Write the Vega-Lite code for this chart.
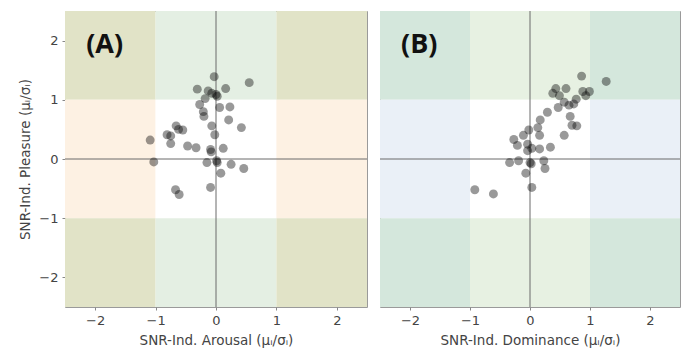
{
  "$schema": "https://vega.github.io/schema/vega-lite/v6.json",
  "padding": {"left": 18, "top": 10, "right": 7, "bottom": 5},
  "background": "white",
  "spacing": 11,
  "datasets": {
    "zonesA": [
      {"x": -2.5, "x2": -1, "y": 1, "y2": 2.5, "zone": "A-corner"},
      {"x": -1, "x2": 1, "y": 1, "y2": 2.5, "zone": "A-vert"},
      {"x": 1, "x2": 2.5, "y": 1, "y2": 2.5, "zone": "A-corner"},
      {"x": -2.5, "x2": -1, "y": -1, "y2": 1, "zone": "A-side"},
      {"x": -1, "x2": 1, "y": -1, "y2": 1, "zone": "center"},
      {"x": 1, "x2": 2.5, "y": -1, "y2": 1, "zone": "A-side"},
      {"x": -2.5, "x2": -1, "y": -2.5, "y2": -1, "zone": "A-corner"},
      {"x": -1, "x2": 1, "y": -2.5, "y2": -1, "zone": "A-vert"},
      {"x": 1, "x2": 2.5, "y": -2.5, "y2": -1, "zone": "A-corner"}
    ],
    "zonesB": [
      {"x": -2.5, "x2": -1, "y": 1, "y2": 2.5, "zone": "B-corner"},
      {"x": -1, "x2": 1, "y": 1, "y2": 2.5, "zone": "B-vert"},
      {"x": 1, "x2": 2.5, "y": 1, "y2": 2.5, "zone": "B-corner"},
      {"x": -2.5, "x2": -1, "y": -1, "y2": 1, "zone": "B-side"},
      {"x": -1, "x2": 1, "y": -1, "y2": 1, "zone": "center"},
      {"x": 1, "x2": 2.5, "y": -1, "y2": 1, "zone": "B-side"},
      {"x": -2.5, "x2": -1, "y": -2.5, "y2": -1, "zone": "B-corner"},
      {"x": -1, "x2": 1, "y": -2.5, "y2": -1, "zone": "B-vert"},
      {"x": 1, "x2": 2.5, "y": -2.5, "y2": -1, "zone": "B-corner"}
    ],
    "ptsA": [
      {"x": -0.03, "y": 1.39}, {"x": 0.55, "y": 1.29}, {"x": -0.31, "y": 1.18}, {"x": 0.16, "y": 1.19},
      {"x": -0.13, "y": 1.15}, {"x": -0.07, "y": 1.11}, {"x": 0.0, "y": 1.09}, {"x": 0.02, "y": 1.06},
      {"x": -0.18, "y": 1.02}, {"x": -0.27, "y": 0.92}, {"x": 0.06, "y": 0.87}, {"x": 0.23, "y": 0.88},
      {"x": -0.21, "y": 0.80}, {"x": -0.20, "y": 0.72}, {"x": 0.21, "y": 0.66}, {"x": -0.07, "y": 0.56},
      {"x": 0.42, "y": 0.53}, {"x": -0.66, "y": 0.56}, {"x": -0.55, "y": 0.49}, {"x": -0.62, "y": 0.50},
      {"x": -0.81, "y": 0.41}, {"x": -0.75, "y": 0.39}, {"x": -0.02, "y": 0.41}, {"x": -1.09, "y": 0.32},
      {"x": -0.75, "y": 0.26}, {"x": -0.47, "y": 0.22}, {"x": -0.33, "y": 0.19}, {"x": 0.12, "y": 0.18},
      {"x": -0.09, "y": 0.16}, {"x": -0.08, "y": 0.12}, {"x": -1.03, "y": -0.05}, {"x": -0.15, "y": -0.06},
      {"x": 0.01, "y": -0.03}, {"x": 0.02, "y": -0.06}, {"x": 0.25, "y": -0.09}, {"x": 0.46, "y": -0.16},
      {"x": 0.08, "y": -0.24}, {"x": -0.09, "y": -0.48}, {"x": -0.67, "y": -0.52}, {"x": -0.61, "y": -0.60}
    ],
    "ptsB": [
      {"x": 0.86, "y": 1.40}, {"x": 1.27, "y": 1.31}, {"x": 0.43, "y": 1.19}, {"x": 0.60, "y": 1.19},
      {"x": 0.38, "y": 1.11}, {"x": 0.49, "y": 1.07}, {"x": 0.88, "y": 1.14}, {"x": 0.99, "y": 1.14},
      {"x": 0.93, "y": 1.07}, {"x": 0.77, "y": 1.01}, {"x": 0.57, "y": 0.96}, {"x": 0.65, "y": 0.91},
      {"x": 0.47, "y": 0.87}, {"x": 0.73, "y": 0.93}, {"x": 0.29, "y": 0.79}, {"x": 0.67, "y": 0.72},
      {"x": 0.17, "y": 0.66}, {"x": 0.70, "y": 0.57}, {"x": 0.78, "y": 0.56}, {"x": 0.13, "y": 0.53},
      {"x": -0.02, "y": 0.49}, {"x": -0.11, "y": 0.40}, {"x": 0.16, "y": 0.40}, {"x": 0.57, "y": 0.40},
      {"x": -0.27, "y": 0.33}, {"x": -0.21, "y": 0.23}, {"x": -0.04, "y": 0.25}, {"x": 0.03, "y": 0.18},
      {"x": 0.16, "y": 0.17}, {"x": 0.34, "y": 0.20}, {"x": -0.04, "y": 0.14}, {"x": -0.34, "y": -0.06},
      {"x": -0.19, "y": -0.03}, {"x": 0.0, "y": -0.06}, {"x": 0.02, "y": -0.08}, {"x": 0.23, "y": -0.03},
      {"x": 0.25, "y": -0.16}, {"x": -0.07, "y": -0.24}, {"x": 0.03, "y": -0.48}, {"x": -0.92, "y": -0.52},
      {"x": -0.61, "y": -0.59}
    ],
    "zero": [{"v": 0}]
  },
  "hconcat": [
    {
      "width": 302,
      "height": 296,
      "layer": [
        {
          "data": {"name": "zonesA"},
          "mark": {"type": "rect", "strokeWidth": 0},
          "encoding": {
            "x": {"field": "x", "type": "quantitative", "scale": {"domain": [-2.5, 2.5], "nice": false, "zero": false},
                  "axis": {"values": [-2, -1, 0, 1, 2], "format": "d", "title": "SNR-Ind. Arousal (μᵢ/σᵢ)"}},
            "x2": {"field": "x2"},
            "y": {"field": "y", "type": "quantitative", "scale": {"domain": [-2.5, 2.5], "nice": false, "zero": false},
                  "axis": {"values": [-2, -1, 0, 1, 2], "format": "d", "title": "SNR-Ind. Pleasure (μᵢ/σᵢ)"}},
            "y2": {"field": "y2"},
            "color": {"field": "zone", "type": "nominal", "legend": null,
                      "scale": {"domain": ["A-corner", "A-vert", "A-side", "center", "B-corner", "B-vert", "B-side"],
                                "range": ["#e1e3c7", "#e4efe3", "#fdf1e3", "#ffffff", "#d4e7dc", "#e7f1e2", "#eaf0f7"]}}
          }
        },
        {
          "data": {"name": "zero"},
          "mark": {"type": "rule", "color": "#6a6a6a", "strokeWidth": 1},
          "encoding": {"x": {"field": "v", "type": "quantitative"}}
        },
        {
          "data": {"name": "zero"},
          "mark": {"type": "rule", "color": "#6a6a6a", "strokeWidth": 1},
          "encoding": {"y": {"field": "v", "type": "quantitative"}}
        },
        {
          "data": {"name": "ptsA"},
          "mark": {"type": "circle", "color": "#000000", "opacity": 0.4, "size": 80},
          "encoding": {
            "x": {"field": "x", "type": "quantitative"},
            "y": {"field": "y", "type": "quantitative"}
          }
        },
        {
          "data": {"values": [{"label": "(A)", "x": -2.15, "y": 1.93}]},
          "mark": {"type": "text", "font": "Open Sans", "fontWeight": "bold", "fontSize": 27, "align": "left", "baseline": "middle", "color": "#111111"},
          "encoding": {
            "x": {"field": "x", "type": "quantitative"},
            "y": {"field": "y", "type": "quantitative"},
            "text": {"field": "label"}
          }
        }
      ]
    },
    {
      "width": 300,
      "height": 296,
      "layer": [
        {
          "data": {"name": "zonesB"},
          "mark": {"type": "rect", "strokeWidth": 0},
          "encoding": {
            "x": {"field": "x", "type": "quantitative", "scale": {"domain": [-2.5, 2.5], "nice": false, "zero": false},
                  "axis": {"values": [-2, -1, 0, 1, 2], "format": "d", "title": "SNR-Ind. Dominance (μᵢ/σᵢ)"}},
            "x2": {"field": "x2"},
            "y": {"field": "y", "type": "quantitative", "scale": {"domain": [-2.5, 2.5], "nice": false, "zero": false},
                  "axis": null},
            "y2": {"field": "y2"},
            "color": {"field": "zone", "type": "nominal", "legend": null,
                      "scale": {"domain": ["A-corner", "A-vert", "A-side", "center", "B-corner", "B-vert", "B-side"],
                                "range": ["#e1e3c7", "#e4efe3", "#fdf1e3", "#ffffff", "#d4e7dc", "#e7f1e2", "#eaf0f7"]}}
          }
        },
        {
          "data": {"name": "zero"},
          "mark": {"type": "rule", "color": "#6a6a6a", "strokeWidth": 1},
          "encoding": {"x": {"field": "v", "type": "quantitative"}}
        },
        {
          "data": {"name": "zero"},
          "mark": {"type": "rule", "color": "#6a6a6a", "strokeWidth": 1},
          "encoding": {"y": {"field": "v", "type": "quantitative"}}
        },
        {
          "data": {"name": "ptsB"},
          "mark": {"type": "circle", "color": "#000000", "opacity": 0.4, "size": 80},
          "encoding": {
            "x": {"field": "x", "type": "quantitative"},
            "y": {"field": "y", "type": "quantitative"}
          }
        },
        {
          "data": {"values": [{"label": "(B)", "x": -2.15, "y": 1.93}]},
          "mark": {"type": "text", "font": "Open Sans", "fontWeight": "bold", "fontSize": 27, "align": "left", "baseline": "middle", "color": "#111111"},
          "encoding": {
            "x": {"field": "x", "type": "quantitative"},
            "y": {"field": "y", "type": "quantitative"},
            "text": {"field": "label"}
          }
        }
      ]
    }
  ],
  "config": {
    "view": {"stroke": "#9a9a9a", "strokeWidth": 1},
    "axis": {
      "grid": false,
      "domain": false,
      "ticks": true,
      "tickSize": 3,
      "tickColor": "#888888",
      "labelFont": "DejaVu Sans",
      "labelFontSize": 13,
      "labelColor": "#444444",
      "labelPadding": 4,
      "titleFont": "DejaVu Sans",
      "titleFontSize": 13.5,
      "titleFontWeight": "normal",
      "titleColor": "#444444",
      "titlePadding": 6
    }
  }
}
